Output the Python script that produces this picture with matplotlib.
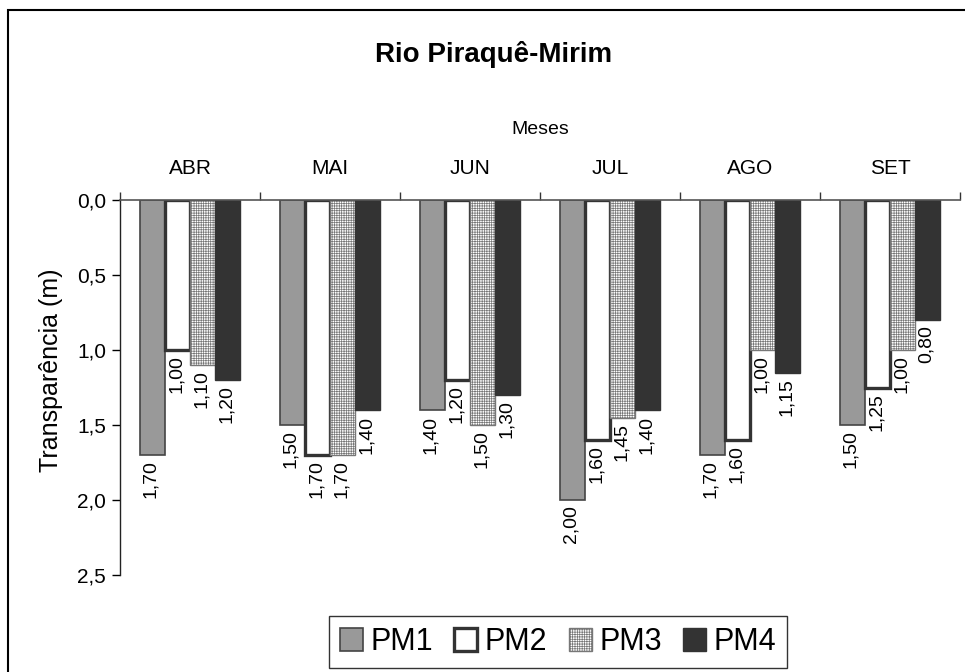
import matplotlib
matplotlib.use("Agg")
import matplotlib.pyplot as plt
from matplotlib.patches import Rectangle
import numpy as np

plt.rcParams['font.family'] = ['Liberation Sans', 'DejaVu Sans']
plt.rcParams['hatch.linewidth'] = 0.5

months = ["ABR", "MAI", "JUN", "JUL", "AGO", "SET"]
series_names = ["PM1", "PM2", "PM3", "PM4"]
pm1 = [1.70, 1.50, 1.40, 2.00, 1.70, 1.50]
pm2 = [1.00, 1.70, 1.20, 1.60, 1.60, 1.25]
pm3 = [1.10, 1.70, 1.50, 1.45, 1.00, 1.00]
pm4 = [1.20, 1.40, 1.30, 1.40, 1.15, 0.80]
yticks = [0.0, 0.5, 1.0, 1.5, 2.0, 2.5]

series = [pm1, pm2, pm3, pm4]
styles = [
    dict(facecolor="#999999", edgecolor="#444444", linewidth=1.2),
    dict(facecolor="white", edgecolor="#333333", linewidth=2.4),
    dict(facecolor="white", edgecolor="#777777", linewidth=1.0, hatch="+++++++"),
    dict(facecolor="#333333", edgecolor="#333333", linewidth=1.0),
]

W, H = 965, 672
fig = plt.figure(figsize=(W / 100, H / 100), dpi=100)
ax = fig.add_axes([120 / W, 1 - 575 / H, 840 / W, 375 / H])

x = np.arange(len(months))
bw = 0.18
offsets = [-1.5, -0.5, 0.5, 1.5]
handles = []
for vals, st, off, name in zip(series, styles, offsets, series_names):
    b = ax.bar(x + off * bw, vals, width=bw, label=name, zorder=2, **st)
    handles.append(b)
    for xi, v in zip(x + off * bw, vals):
        ax.annotate(f"{v:.2f}".replace(".", ","), (xi, v), xytext=(-1, -4),
                    textcoords="offset points", rotation=90, ha="center",
                    va="top", fontsize=14, color="black")

ax.set_xlim(-0.5, len(months) - 0.5)
ax.set_ylim(2.5, 0)
ax.set_yticks(yticks)
ax.set_yticklabels([f"{t:.1f}".replace(".", ",") for t in yticks], fontsize=15)
ax.tick_params(axis="y", direction="out", length=6, width=1, pad=4)

ax.xaxis.tick_top()
ax.set_xticks(x)
ax.set_xticklabels(months, fontsize=15)
ax.set_xticks(np.arange(-0.5, len(months)), minor=True)
ax.tick_params(axis="x", which="major", length=0, pad=16)
ax.tick_params(axis="x", which="minor", direction="out", length=6, width=1,
               color="#333333")

for s in ["right", "bottom"]:
    ax.spines[s].set_visible(False)
ax.spines["top"].set_color("#555555")
ax.spines["top"].set_linewidth(1.2)
ax.spines["left"].set_color("#222222")
ax.spines["left"].set_linewidth(1.0)

fig.text(494 / W, 1 - 54 / H, "Rio Piraquê-Mirim", fontsize=20,
         fontweight="bold", ha="center", va="center")
fig.text(540 / W, 1 - 130 / H, "Meses", fontsize=14, ha="center", va="center")
fig.text(51 / W, 1 - 370 / H, "Transparência (m)", fontsize=18,
         rotation=90, ha="center", va="center")

leg = fig.legend(handles=handles, labels=series_names, loc="center",
                 bbox_to_anchor=(558 / W, 1 - 642 / H), ncol=4, fontsize=22,
                 frameon=True, fancybox=False, edgecolor="#333333",
                 framealpha=1, handlelength=0.75, handleheight=0.75,
                 handletextpad=0.25, columnspacing=0.7, borderpad=0.35)
leg.get_frame().set_linewidth(1.0)

fig.patches.append(Rectangle((8 / W, -0.1), 1.2, 1 - 10 / H + 0.1,
                             transform=fig.transFigure, fill=False,
                             edgecolor="black", linewidth=1.5))

fig.savefig("out.png", dpi=100)
